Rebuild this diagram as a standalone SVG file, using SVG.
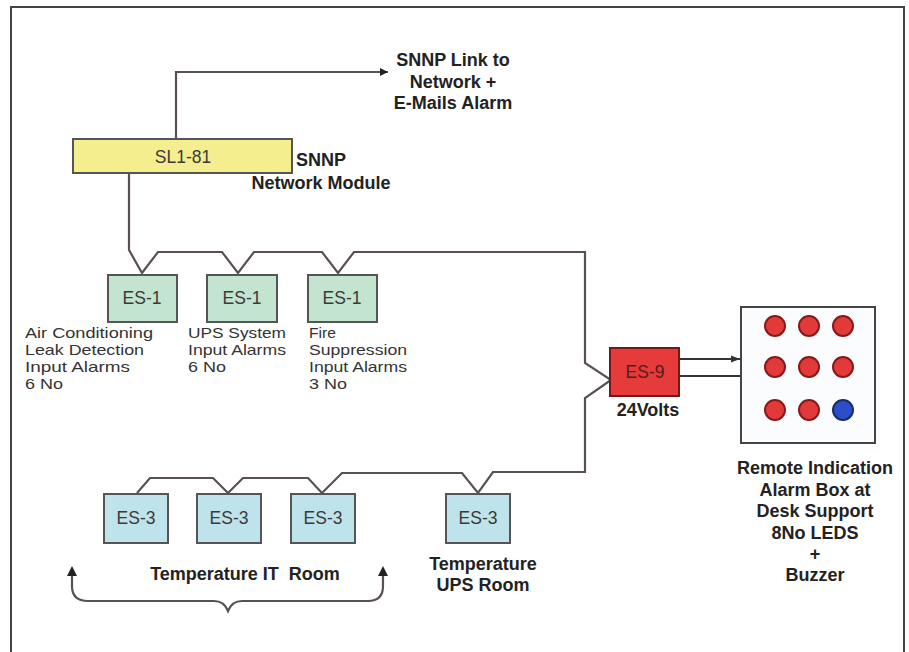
<svg xmlns="http://www.w3.org/2000/svg" width="909" height="652" viewBox="0 0 909 652">
<defs>
<marker id="arr" viewBox="0 0 10 10" refX="10" refY="5" markerWidth="10" markerHeight="8" markerUnits="userSpaceOnUse" orient="auto"><path d="M0,0 L10,5 L0,10 z" fill="#222"/></marker>
<marker id="arr2" viewBox="0 0 10 10" refX="10" refY="5" markerWidth="9" markerHeight="9" markerUnits="userSpaceOnUse" orient="auto"><path d="M0,1 L10,5 L0,9 z" fill="#333"/></marker>
</defs>
<style>
.ln{fill:none;stroke:#595050;stroke-width:2.2;stroke-linejoin:miter}
.box{stroke:#555;stroke-width:2}
.bt{font-family:"Liberation Sans",Arial,sans-serif;font-size:17.5px;fill:#3a3a3a;text-anchor:middle}
.lbl{font-family:"Liberation Sans",Arial,sans-serif;font-size:15px;fill:#333}
.bold{font-family:"Liberation Sans",Arial,sans-serif;font-size:18px;font-weight:bold;fill:#222;text-anchor:middle}
.led{fill:#e23a3a;stroke:#8a1818;stroke-width:2}
</style>
<rect width="909" height="652" fill="#fff"/>
<path d="M11,660 V7 H904 V660" fill="none" stroke="#444" stroke-width="2"/>

<g id="connectors">
<path class="ln" d="M176,139 V72 H388" marker-end="url(#arr)"/>
<path class="ln" d="M129,173 V250 L142,273 L158,252 H222 L238,273 L254,252 H322 L338,273 L354,252 H585 V363 L611,380 L585,398 V472 H493 L478,493 L462,473 H342 L322,493 L308,478 H243 L228,493 L213,478 H150 L137,493"/>
<path d="M679,359 H740" fill="none" stroke="#333" stroke-width="2" marker-end="url(#arr2)"/>
<path d="M679,376 H742" fill="none" stroke="#333" stroke-width="2"/>
<path class="ln" d="M72,574 V586 Q72,601 88,601 H214 Q224,601 228,611 Q232,601 242,601 H368 Q383,601 383,586 V574"/>
<path d="M67,576 L72,566 L77,576 z" fill="#222"/>
<path d="M378,576 L383,566 L388,576 z" fill="#222"/>
</g>

<g id="sl1-81">
<rect class="box" x="73" y="139" width="219" height="34" fill="#f4ee8e"/>
<text class="bt" x="183" y="163">SL1-81</text>
</g>
<g id="snnp-label">
<text class="bold" x="321" y="166">SNNP</text>
<text class="bold" x="321" y="189">Network Module</text>
</g>
<g id="snnp-link">
<text class="bold" x="453" y="66">SNNP Link to</text>
<text class="bold" x="453" y="88">Network +</text>
<text class="bold" x="453" y="109">E-Mails Alarm</text>
</g>

<g id="es1-a">
<rect class="box" x="108" y="275" width="69" height="47" fill="#c3e4cf"/>
<text class="bt" x="142" y="304">ES-1</text>
<text class="lbl" x="25" y="338" textLength="128" lengthAdjust="spacingAndGlyphs">Air Conditioning</text>
<text class="lbl" x="25" y="355" textLength="119" lengthAdjust="spacingAndGlyphs">Leak Detection</text>
<text class="lbl" x="25" y="372" textLength="105" lengthAdjust="spacingAndGlyphs">Input Alarms</text>
<text class="lbl" x="25" y="389" textLength="38" lengthAdjust="spacingAndGlyphs">6 No</text>
</g>
<g id="es1-b">
<rect class="box" x="207" y="275" width="70" height="47" fill="#c3e4cf"/>
<text class="bt" x="242" y="304">ES-1</text>
<text class="lbl" x="188" y="338" textLength="98" lengthAdjust="spacingAndGlyphs">UPS System</text>
<text class="lbl" x="188" y="355" textLength="98" lengthAdjust="spacingAndGlyphs">Input Alarms</text>
<text class="lbl" x="188" y="372" textLength="38" lengthAdjust="spacingAndGlyphs">6 No</text>
</g>
<g id="es1-c">
<rect class="box" x="308" y="275" width="69" height="47" fill="#c3e4cf"/>
<text class="bt" x="342" y="304">ES-1</text>
<text class="lbl" x="309" y="338" textLength="27" lengthAdjust="spacingAndGlyphs">Fire</text>
<text class="lbl" x="309" y="355" textLength="98" lengthAdjust="spacingAndGlyphs">Suppression</text>
<text class="lbl" x="309" y="372" textLength="98" lengthAdjust="spacingAndGlyphs">Input Alarms</text>
<text class="lbl" x="309" y="389" textLength="38" lengthAdjust="spacingAndGlyphs">3 No</text>
</g>

<g id="es9">
<rect x="610" y="348" width="69" height="48" fill="#e53b3b" stroke="#7a1515" stroke-width="2"/>
<text class="bt" x="645" y="378" style="fill:#5a1a1a">ES-9</text>
<text class="bold" x="648" y="416">24Volts</text>
</g>

<g id="alarm-box">
<rect x="741" y="307" width="134" height="136" fill="#fbfcfd" stroke="#444" stroke-width="2"/>
<circle class="led" cx="775" cy="326" r="10"/>
<circle class="led" cx="809" cy="326" r="10"/>
<circle class="led" cx="843" cy="326" r="10"/>
<circle class="led" cx="775" cy="367" r="10"/>
<circle class="led" cx="809" cy="367" r="10"/>
<circle class="led" cx="843" cy="367" r="10"/>
<circle class="led" cx="775" cy="410" r="10"/>
<circle class="led" cx="809" cy="410" r="10"/>
<circle cx="843" cy="410" r="10" fill="#2a4fc8" stroke="#1a2a6a" stroke-width="2"/>
<text class="bold" x="815" y="474">Remote Indication</text>
<text class="bold" x="815" y="496">Alarm Box at</text>
<text class="bold" x="815" y="517">Desk Support</text>
<text class="bold" x="815" y="539">8No LEDS</text>
<text class="bold" x="815" y="560">+</text>
<text class="bold" x="815" y="581">Buzzer</text>
</g>

<g id="es3-a">
<rect class="box" x="104" y="494" width="64" height="49" fill="#bfe3ea"/>
<text class="bt" x="136" y="524">ES-3</text>
</g>
<g id="es3-b">
<rect class="box" x="197" y="494" width="64" height="49" fill="#bfe3ea"/>
<text class="bt" x="229" y="524">ES-3</text>
</g>
<g id="es3-c">
<rect class="box" x="291" y="494" width="64" height="49" fill="#bfe3ea"/>
<text class="bt" x="323" y="524">ES-3</text>
</g>
<g id="es3-d">
<rect class="box" x="446" y="494" width="64" height="49" fill="#bfe3ea"/>
<text class="bt" x="478" y="524">ES-3</text>
<text class="bold" x="483" y="570">Temperature</text>
<text class="bold" x="483" y="591">UPS Room</text>
</g>
<g id="it-room-label">
<text class="bold" x="245" y="580" xml:space="preserve">Temperature IT  Room</text>
</g>
</svg>
